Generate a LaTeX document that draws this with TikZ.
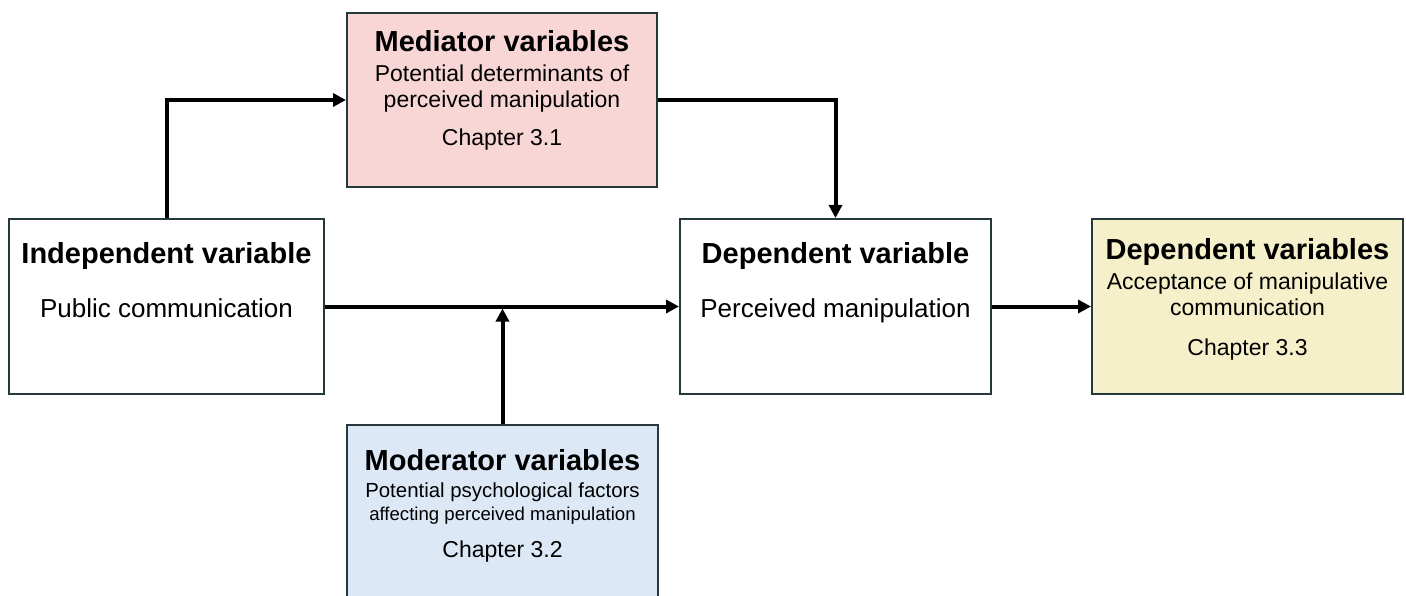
\documentclass[tikz,border=0pt]{standalone}
\usepackage{fontspec}
\setmainfont{Liberation Sans}
\usetikzlibrary{arrows.meta}
\definecolor{edge}{HTML}{25383C}
\definecolor{medfill}{HTML}{F9D6D6}
\definecolor{modfill}{HTML}{DCE8F5}
\definecolor{accfill}{HTML}{F5F0C9}
\tikzset{
  varbox/.style={draw=edge, line width=2pt, rectangle, inner sep=0pt},
  link/.style={line width=4pt, -{Triangle[length=13pt,width=13pt]}},
  ttl/.style={anchor=base, font=\fontsize{29}{34}\selectfont\bfseries, inner sep=0pt},
  txt/.style={anchor=base, font=\fontsize{#1}{#1}\selectfont, inner sep=0pt},
  txt/.default=23
}
\begin{document}
\begin{tikzpicture}[x=1pt,y=-1pt]
\clip (0,0) rectangle (1406,596);
\fill[white] (0,0) rectangle (1406,596);

% boxes
\node[varbox, fill=medfill, minimum width=310pt, minimum height=174pt] (med) at (502,100) {};
\node[varbox, fill=white, minimum width=315pt, minimum height=175pt] (ind) at (166.5,306.5) {};
\node[varbox, fill=white, minimum width=311pt, minimum height=175pt] (dep) at (835.5,306.5) {};
\node[varbox, fill=accfill, minimum width=311pt, minimum height=175pt] (acc) at (1247.5,306.5) {};
\node[varbox, fill=modfill, minimum width=311pt, minimum height=190pt] (mod) at (502.5,520) {};

% texts: mediator
\node[ttl] (medT) at (502,52) {Mediator variables};
\node[txt] (medA) at (502,82) {Potential determinants of};
\node[txt] (medB) at (502,108) {perceived manipulation};
\node[txt] (medC) at (502,146) {Chapter 3.1};

% texts: independent
\node[ttl] (indT) at (166.5,263) {Independent variable};
\node[txt=26] (indA) at (166.5,317) {Public communication};

% texts: dependent
\node[ttl] (depT) at (835.5,263) {Dependent variable};
\node[txt=26] (depA) at (835.5,317) {Perceived manipulation};

% texts: acceptance
\node[ttl] (accT) at (1247.5,260) {Dependent variables};
\node[txt] (accA) at (1247.5,289) {Acceptance of manipulative};
\node[txt] (accB) at (1247.5,316) {communication};
\node[txt] (accC) at (1247.5,355) {Chapter 3.3};

% texts: moderator
\node[ttl] (modT) at (502.5,470) {Moderator variables};
\node[txt=20.4] (modA) at (502.5,497) {Potential psychological factors};
\node[txt=18.6] (modB) at (502.5,520) {affecting perceived manipulation};
\node[txt] (modC) at (502.5,557) {Chapter 3.2};

% connectors
\coordinate (join) at (mod.north |- ind.east);
\draw[link] (ind.north) |- (med.west);
\draw[link] (med.east) -| (dep.north);
\draw[link] (ind.east) -- (dep.west);
\draw[link] (dep.east) -- (acc.west);
\draw[link, shorten >=2pt] (mod.north) -- (join);
\end{tikzpicture}
\end{document}
